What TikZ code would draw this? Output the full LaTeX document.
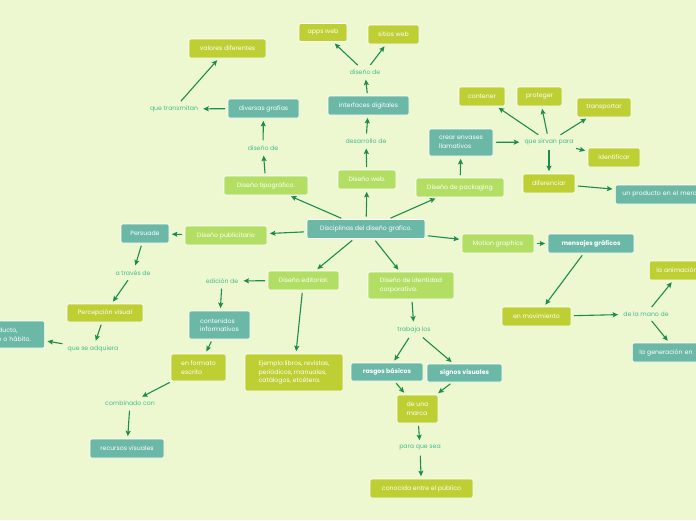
\documentclass[tikz,border=0pt]{standalone}
\usepackage{fontspec}
\setmainfont{Poppins}
\usetikzlibrary{arrows.meta}
\definecolor{bgc}{HTML}{EDF8D1}
\definecolor{tealc}{HTML}{6CB8A7}
\definecolor{limec}{HTML}{BECF33}
\definecolor{lgreenc}{HTML}{B2DF63}
\definecolor{lblc}{HTML}{45BA8C}
\definecolor{arrc}{HTML}{1E8C4C}
\newcommand{\fsz}{\fontsize{6.2}{8.6}\selectfont}
\tikzset{
  basebox/.style={rounded corners=2pt, draw=white, line width=0.6pt, text=white, font=\fsz, inner sep=0pt, align=center},
  tealbox/.style={basebox, fill=tealc},
  limebox/.style={basebox, fill=limec},
  lgbox/.style={basebox, fill=lgreenc},
  lbl/.style={text=lblc, font=\fsz, inner sep=2.5pt},
  arr/.style={-{Stealth[length=5.5pt,width=5pt,inset=1pt]}, draw=arrc, line width=1.1pt, shorten >=2.5pt, shorten <=2.5pt},
}
\begin{document}
\begin{tikzpicture}[x=1pt,y=-1pt]
\fill[bgc] (0,0) rectangle (696,520);
\useasboundingbox (0,0) rectangle (696,520);
\clip (0,0) rectangle (696,520);
% centre
\node[tealbox, minimum width=118pt, minimum height=19pt] (c) at (366,229) {Disciplinas del diseño grafico.};
% tipografico branch
\node[lgbox, minimum width=84pt, minimum height=19pt] (tip) at (266,185.5) {Diseño tipográfico.};
\node[lbl] (dd1) at (263,148) {diseño de};
\node[tealbox, minimum width=71pt, minimum height=19pt] (gra) at (263.5,108.5) {diversas grafías};
\node[lbl] (qt) at (174,109) {que transmitan};
\node[limebox, minimum width=77pt, minimum height=19pt] (val) at (227.5,48.5) {valores diferentes};
% web branch
\node[lgbox, minimum width=58pt, minimum height=19pt] (web) at (367,179.5) {Diseño web.};
\node[lbl] (des) at (366,141) {desarrollo de};
\node[tealbox, minimum width=81pt, minimum height=19pt] (int) at (368.5,105.5) {interfaces digitales};
\node[lbl] (dd2) at (365,72) {diseño de};
\node[limebox, minimum width=48pt, minimum height=18pt] (app) at (323,32.5) {apps web};
\node[limebox, minimum width=51pt, minimum height=19pt] (sit) at (393.5,34.5) {sitios web};
% packaging branch
\node[lgbox, minimum width=88pt, minimum height=19pt] (pack) at (460,187.5) {Diseño de packaging};
\node[tealbox, minimum width=64pt, minimum height=27pt, align=left] (cre) at (461,142.5) {crear envases\\llamativos};
\node[lbl] (qs) at (549,142) {que sirvan para};
\node[limebox, minimum width=46pt, minimum height=19pt] (con) at (482,96.5) {contener};
\node[limebox, minimum width=45pt, minimum height=19pt] (pro) at (539.5,96.5) {proteger};
\node[limebox, minimum width=54pt, minimum height=19pt] (tra) at (604,107.5) {transportar};
\node[limebox, minimum width=52pt, minimum height=19pt] (ide) at (614,157.5) {identificar};
\node[limebox, minimum width=52pt, minimum height=19pt] (dif) at (549,183.5) {diferenciar};
\node[tealbox, anchor=west, minimum width=120pt, minimum height=19pt, text width=106pt, inner xsep=7pt, align=left] (upm) at (615,194.5) {un producto en el mercado};
% motion branch
\node[lgbox, minimum width=72pt, minimum height=19pt] (mot) at (498,243.5) {Motion graphics};
\node[tealbox, minimum width=86pt, minimum height=19pt, font=\fsz\bfseries] (men) at (591,243.5) {mensajes gráficos};
\node[limebox, minimum width=69pt, minimum height=19pt] (mov) at (536.5,316.5) {en movimiento};
\node[lbl] (dlm) at (646,314) {de la mano de};
\node[limebox, anchor=west, minimum width=64pt, minimum height=19pt, text width=50pt, inner xsep=7pt, align=left] (ani) at (649,270.5) {la animación};
\node[tealbox, anchor=west, minimum width=90pt, minimum height=19pt, text width=76pt, inner xsep=7pt, align=left] (gen) at (632,352.5) {la generación en};
% publicitario branch
\node[lgbox, minimum width=82pt, minimum height=19pt] (pub) at (226,235.5) {Diseño publicitario};
\node[tealbox, minimum width=48pt, minimum height=19pt] (per) at (145,233.5) {Persuade};
\node[lbl] (atr) at (133,273) {a través de};
\node[limebox, minimum width=76pt, minimum height=18pt] (pv) at (105,313) {Percepción visual};
\node[lbl] (qa) at (93,349) {que se adquiera};
\node[tealbox, anchor=east, minimum width=72pt, minimum height=27pt, text width=62pt, inner xsep=5pt, align=left] (prd) at (45,334.5) {un producto,\\servicio o hábito.};
% editorial branch
\node[lgbox, minimum width=71pt, minimum height=19pt] (edi) at (303.5,280.5) {Diseño editorial.};
\node[lbl] (edd) at (222,281) {edición de};
\node[tealbox, minimum width=61pt, minimum height=28pt, align=left] (cin) at (219.5,325) {contenidos\\informativos};
\node[limebox, minimum width=55pt, minimum height=27pt, align=left] (efe) at (198.5,367.5) {en formato\\escrito};
\node[lbl] (cc) at (130,403) {combinado con};
\node[tealbox, minimum width=74pt, minimum height=19pt] (rv) at (127,448.5) {recursos visuales};
\node[limebox, minimum width=98pt, minimum height=37pt, align=left] (eje) at (294,372.5) {Ejemplo:libros, revistas,\\periódicos, manuales,\\catálogos, etcétera.};
% identidad branch
\node[lgbox, minimum width=86pt, minimum height=27pt, align=left] (idc) at (411,285.5) {Diseño de identidad\\corporativa.};
\node[lbl] (tl) at (414,330) {trabaja los};
\node[tealbox, minimum width=72pt, minimum height=18pt, font=\fsz\bfseries] (ras) at (387,372) {rasgos básicos};
\node[tealbox, minimum width=75pt, minimum height=18pt, font=\fsz\bfseries] (sig) at (464.5,373) {signos visuales};
\node[limebox, minimum width=41pt, minimum height=28pt, align=left] (dum) at (417.5,409) {de una\\marca};
\node[lbl] (pqs) at (420,448) {para que sea};
\node[limebox, minimum width=103pt, minimum height=19pt] (cep) at (421.5,488.5) {conocida entre el público};
% connectors
\draw[arr] (c) -- (tip);
\draw[arr] (c) -- (web);
\draw[arr] (c) -- (pack);
\draw[arr] (c) -- (pub);
\draw[arr] (c) -- (mot);
\draw[arr] (c) -- (edi);
\draw[arr] (c) -- (idc);
\draw[arr] (tip) -- (dd1);
\draw[arr] (dd1) -- (gra);
\draw[arr] (gra) -- (qt);
\draw[arr] (qt) -- (val);
\draw[arr] (web) -- (des);
\draw[arr] (des) -- (int);
\draw[arr] (int) -- (dd2);
\draw[arr] (dd2) -- (app);
\draw[arr] (dd2) -- (sit);
\draw[arr] (pack) -- (cre);
\draw[arr] (cre) -- (qs);
\draw[arr] (qs) -- (con);
\draw[arr] (qs) -- (pro);
\draw[arr] (qs) -- (tra);
\draw[arr] (qs) -- (ide);
\draw[arr] (qs) -- (dif);
\draw[arr] (dif) -- (upm);
\draw[arr] (mot) -- (men);
\draw[arr] (men) -- (mov);
\draw[arr] (mov) -- (dlm);
\draw[arr] (dlm) -- (ani);
\draw[arr] (dlm) -- (gen);
\draw[arr] (pub) -- (per);
\draw[arr] (per) -- (atr);
\draw[arr] (atr) -- (pv);
\draw[arr] (pv) -- (qa);
\draw[arr] (qa) -- (prd);
\draw[arr] (edi) -- (edd);
\draw[arr] (edd) -- (cin);
\draw[arr] (cin) -- (efe);
\draw[arr] (efe) -- (cc);
\draw[arr] (cc) -- (rv);
\draw[arr] (edi) -- (eje);
\draw[arr] (idc) -- (tl);
\draw[arr] (tl) -- (ras);
\draw[arr] (tl) -- (sig);
\draw[arr] (ras) -- (dum);
\draw[arr] (sig) -- (dum);
\draw[arr] (dum) -- (pqs);
\draw[arr] (pqs) -- (cep);
\end{tikzpicture}
\end{document}
